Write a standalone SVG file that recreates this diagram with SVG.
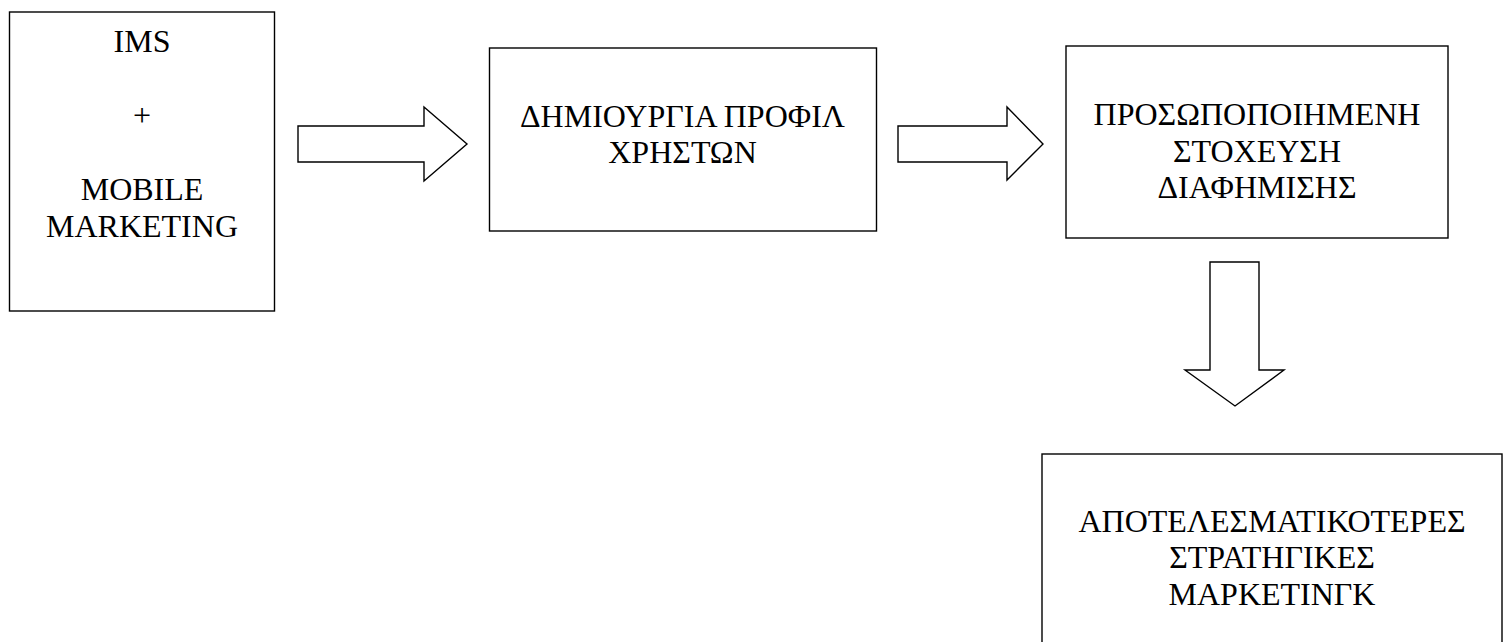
<svg xmlns="http://www.w3.org/2000/svg" width="1504" height="642" viewBox="0 0 1504 642">
<style>
.box{fill:#fff;stroke:#000;stroke-width:1.4}
.arr{fill:#fff;stroke:#000;stroke-width:1.4;stroke-linejoin:miter}
text{font-family:"Liberation Serif","Times New Roman",serif;font-size:32px;fill:#000;text-anchor:middle}
</style>
<rect width="1504" height="642" fill="#fff"/>
<g id="connectors">
<polygon class="arr" points="298,126 424,126 424,107 467,144 424,181 424,162 298,162"/>
<polygon class="arr" points="898,126 1007,126 1007,107 1043,144 1007,180 1007,162 898,162"/>
<polygon class="arr" points="1210,262 1259,262 1259,370 1284,370 1235,406 1185,370 1210,370"/>
</g>
<g id="node-ims">
<rect class="box" x="9.5" y="12" width="265" height="299"/>
<text x="142" y="52">IMS</text>
<text x="142" y="126">+</text>
<text x="142" y="200">MOBILE</text>
<text x="142" y="237">MARKETING</text>
</g>
<g id="node-profile">
<rect class="box" x="489.5" y="48" width="387" height="183"/>
<text x="682.5" y="127">ΔΗΜΙΟΥΡΓΙΑ ΠΡΟΦΙΛ</text>
<text x="682.5" y="163">ΧΡΗΣΤΩΝ</text>
</g>
<g id="node-targeting">
<rect class="box" x="1066" y="46" width="382" height="192"/>
<text x="1257" y="125">ΠΡΟΣΩΠΟΠΟΙΗΜΕΝΗ</text>
<text x="1257" y="162">ΣΤΟΧΕΥΣΗ</text>
<text x="1257" y="198">ΔΙΑΦΗΜΙΣΗΣ</text>
</g>
<g id="node-strategies">
<rect class="box" x="1042" y="454" width="460" height="200"/>
<text x="1272" y="532">ΑΠΟΤΕΛΕΣΜΑΤΙΚΟΤΕΡΕΣ</text>
<text x="1272" y="568">ΣΤΡΑΤΗΓΙΚΕΣ</text>
<text x="1272" y="605">ΜΑΡΚΕΤΙΝΓΚ</text>
</g>
</svg>
